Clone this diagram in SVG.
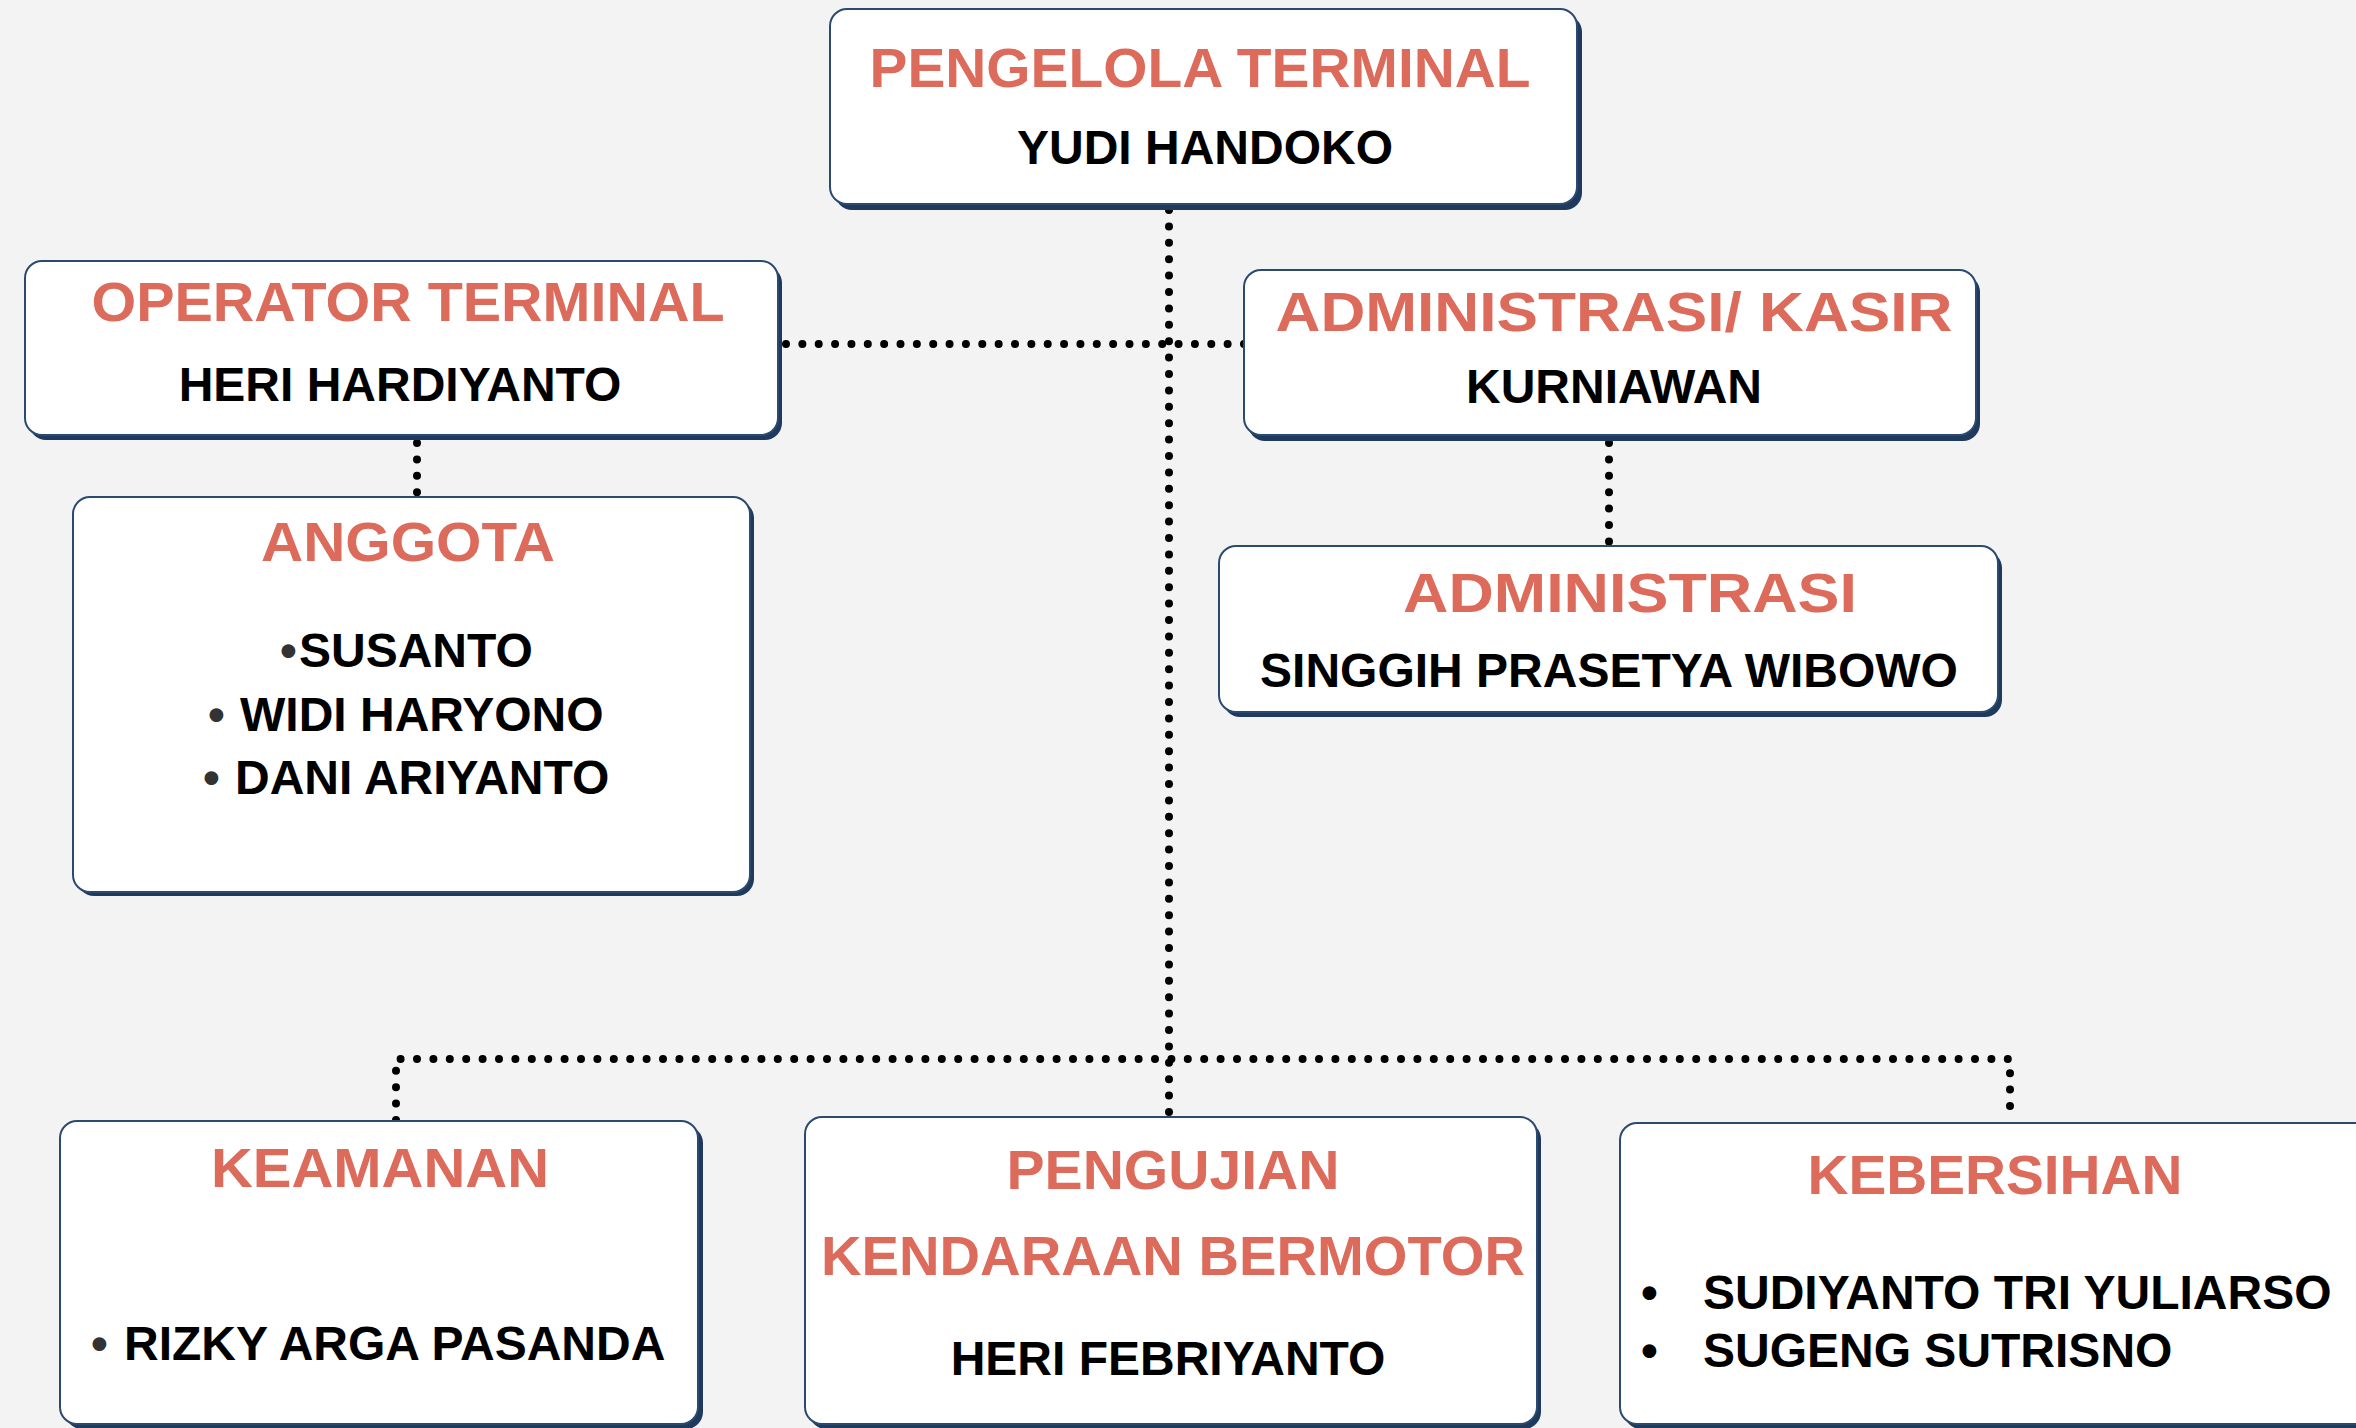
<svg xmlns="http://www.w3.org/2000/svg" width="2356" height="1428" viewBox="0 0 2356 1428">
<style>
.bg{fill:#f3f3f3}
.box{fill:#ffffff;stroke:#2b4a6f;stroke-width:2}
.sh{fill:#1f3a5c}
.t{font-family:"Liberation Sans",Arial,sans-serif;font-weight:bold;fill:#dc6b5b;font-size:55px;text-anchor:middle}
.n{font-family:"Liberation Sans",Arial,sans-serif;font-weight:bold;fill:#000000;font-size:48px}
.c{text-anchor:middle}
.bul{fill:#333333}
.dot{fill:none;stroke:#000000;stroke-width:8;stroke-linecap:round;stroke-dasharray:0 16.4}
</style>
<rect class="bg" x="0" y="0" width="2356" height="1428"/>
<g id="connectors">
<path class="dot" d="M1169 210 V1117"/>
<path class="dot" d="M786 344 H1244" style="stroke-dasharray:0 16.357"/>
<path class="dot" d="M417 443 V495"/>
<path class="dot" d="M1609 443 V544"/>
<path class="dot" d="M396 1120 V1059 H2010 V1120"/>
</g>
<g id="pengelola">
<rect class="sh" x="835" y="15" width="747" height="195" rx="17"/>
<rect class="box" x="830" y="9" width="747" height="195" rx="17"/>
<text class="t" x="1200" y="87" textLength="661" lengthAdjust="spacingAndGlyphs">PENGELOLA TERMINAL</text>
<text class="n c" x="1205" y="164">YUDI HANDOKO</text>
</g>
<g id="operator">
<rect class="sh" x="29" y="266" width="753" height="174" rx="17"/>
<rect class="box" x="25" y="261" width="753" height="174" rx="17"/>
<text class="t" x="408" y="321" textLength="633" lengthAdjust="spacingAndGlyphs">OPERATOR TERMINAL</text>
<text class="n c" x="400" y="401">HERI HARDIYANTO</text>
</g>
<g id="kasir">
<rect class="sh" x="1248" y="275" width="732" height="166" rx="17"/>
<rect class="box" x="1244" y="270" width="732" height="165" rx="17"/>
<text class="t" x="1614" y="331" textLength="677" lengthAdjust="spacingAndGlyphs">ADMINISTRASI/ KASIR</text>
<text class="n c" x="1614" y="403">KURNIAWAN</text>
</g>
<g id="anggota">
<rect class="sh" x="77" y="501" width="677" height="395" rx="17"/>
<rect class="box" x="73" y="497" width="677" height="395" rx="17"/>
<text class="t" x="408" y="561" textLength="294" lengthAdjust="spacingAndGlyphs">ANGGOTA</text>
<text class="n" y="667"><tspan class="bul" x="280">•</tspan><tspan x="299">SUSANTO</tspan></text>
<text class="n" y="731"><tspan class="bul" x="208">• </tspan><tspan x="240">WIDI HARYONO</tspan></text>
<text class="n" y="794"><tspan class="bul" x="203">• </tspan><tspan x="235">DANI ARIYANTO</tspan></text>
</g>
<g id="administrasi">
<rect class="sh" x="1223" y="551" width="779" height="166" rx="17"/>
<rect class="box" x="1219" y="546" width="779" height="166" rx="17"/>
<text class="t" x="1630" y="612" textLength="454" lengthAdjust="spacingAndGlyphs">ADMINISTRASI</text>
<text class="n c" x="1609" y="687">SINGGIH PRASETYA WIBOWO</text>
</g>
<g id="keamanan">
<rect class="sh" x="65" y="1126" width="638" height="303" rx="17"/>
<rect class="box" x="60" y="1121" width="638" height="303" rx="17"/>
<text class="t" x="380" y="1187" textLength="338" lengthAdjust="spacingAndGlyphs">KEAMANAN</text>
<text class="n" y="1360"><tspan class="bul" x="91">• </tspan><tspan x="124">RIZKY ARGA PASANDA</tspan></text>
</g>
<g id="pengujian">
<rect class="sh" x="809" y="1122" width="732" height="307" rx="17"/>
<rect class="box" x="805" y="1117" width="732" height="307" rx="17"/>
<text class="t" x="1173" y="1189" textLength="333" lengthAdjust="spacingAndGlyphs">PENGUJIAN</text>
<text class="t" x="1173" y="1275" textLength="704" lengthAdjust="spacingAndGlyphs">KENDARAAN BERMOTOR</text>
<text class="n c" x="1168" y="1375">HERI FEBRIYANTO</text>
</g>
<g id="kebersihan">
<rect class="sh" x="1624" y="1128" width="800" height="301" rx="17"/>
<rect class="box" x="1620" y="1123" width="800" height="301" rx="17"/>
<text class="t" x="1995" y="1194" textLength="375" lengthAdjust="spacingAndGlyphs">KEBERSIHAN</text>
<text class="n" y="1309"><tspan x="1641">• </tspan><tspan x="1703">SUDIYANTO TRI YULIARSO</tspan></text>
<text class="n" y="1367"><tspan x="1641">• </tspan><tspan x="1703">SUGENG SUTRISNO</tspan></text>
</g>
</svg>
